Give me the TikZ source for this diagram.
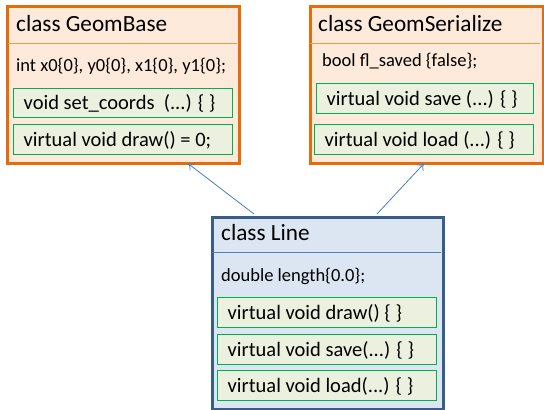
\documentclass[tikz,border=0pt]{standalone}
\usepackage{fontspec}
\setmainfont{Carlito}
\usetikzlibrary{arrows.meta}
\definecolor{orangeB}{HTML}{E46C0A}
\definecolor{orangeF}{HTML}{FDEADA}
\definecolor{orangeS}{HTML}{F79646}
\definecolor{greenB}{HTML}{00B050}
\definecolor{greenF}{HTML}{EBF1DE}
\definecolor{blueB}{HTML}{385D8A}
\definecolor{blueF}{HTML}{DCE6F2}
\definecolor{blueS}{HTML}{4F81BD}
\definecolor{arrowC}{HTML}{4A7EBB}
\tikzset{
  classbox/.style={draw=#1, line width=3pt, anchor=north west, inner sep=0pt},
  methbox/.style={draw=greenB, fill=greenF, line width=1.1pt, anchor=north west, inner sep=0pt},
  methtext/.style={anchor=west, inner sep=0pt, xshift=10.5pt, text height=13pt, text depth=0pt,
    font=\fontsize{20.5pt}{22pt}\selectfont},
  titletext/.style={anchor=base west, inner sep=0pt, font=\fontsize{23.2pt}{25pt}\selectfont},
  fieldtext/.style={anchor=base west, inner sep=0pt, font=\fontsize{18.5pt}{20pt}\selectfont},
  inherit/.style={draw=arrowC, line width=0.8pt, -{To[length=6pt,width=9pt]}},
}
\begin{document}
\begin{tikzpicture}[x=1pt,y=-1pt]
\useasboundingbox (0,0) rectangle (544,410);
% GeomBase
\node[classbox=orangeB, fill=orangeF, minimum width=232pt, minimum height=157pt] (gb) at (6,4.5) {};
\draw[orangeS, line width=1pt] (7.5,43) -- (236.5,43);
\node[titletext] (gbt) at (16,31) {class GeomBase};
\node[fieldtext] (gbf) at (16,71) {int x0\{0\}, y0\{0\}, x1\{0\}, y1\{0\};};
\node[methbox, minimum width=219pt, minimum height=29pt] (gbm1) at (13,88) {};
\node[methtext] (gbm1t) at (gbm1.west) {void set\_coords\hspace{0.45em}(...) \{ \}};
\node[methbox, minimum width=219pt, minimum height=30pt] (gbm2) at (13,124) {};
\node[methtext] (gbm2t) at (gbm2.west) {virtual void draw() = 0;};
% GeomSerialize
\node[classbox=orangeB, fill=orangeF, minimum width=233pt, minimum height=157pt] (gs) at (308.5,4.5) {};
\draw[orangeS, line width=1pt] (310,43) -- (540,43);
\node[titletext] (gst) at (318,31) {class GeomSerialize};
\node[fieldtext] (gsf) at (322,66) {bool fl\_saved \{false\};};
\node[methbox, minimum width=217pt, minimum height=30pt] (gsm1) at (316,83) {};
\node[methtext] (gsm1t) at (gsm1.west) {virtual void save (...) \{ \}};
\node[methbox, minimum width=219pt, minimum height=30pt] (gsm2) at (314,124) {};
\node[methtext] (gsm2t) at (gsm2.west) {virtual void load (...) \{ \}};
% Line
\node[classbox=blueB, fill=blueF, minimum width=231.5pt, minimum height=192pt] (ln) at (210.5,215.5) {};
\draw[blueS, line width=1pt] (212,252.3) -- (440.5,252.3);
\node[titletext] (lnt) at (221,240.7) {class Line};
\node[fieldtext] (lnf) at (221,281) {double length\{0.0\};};
\node[methbox, minimum width=219pt, minimum height=30pt] (lnm1) at (217,297) {};
\node[methtext] (lnm1t) at (lnm1.west) {virtual void draw() \{ \}};
\node[methbox, minimum width=219pt, minimum height=30pt] (lnm2) at (217,334) {};
\node[methtext] (lnm2t) at (lnm2.west) {virtual void save(...) \{ \}};
\node[methbox, minimum width=219pt, minimum height=30pt] (lnm3) at (217,370) {};
\node[methtext] (lnm3t) at (lnm3.west) {virtual void load(...) \{ \}};
% inheritance
\coordinate (a1s) at (254,214);
\coordinate (a1e) at (188,163.5);
\coordinate (a2s) at (377,214);
\coordinate (a2e) at (424,163.5);
\draw[inherit] (a1s) -- (a1e);
\draw[inherit] (a2s) -- (a2e);
\end{tikzpicture}
\end{document}
